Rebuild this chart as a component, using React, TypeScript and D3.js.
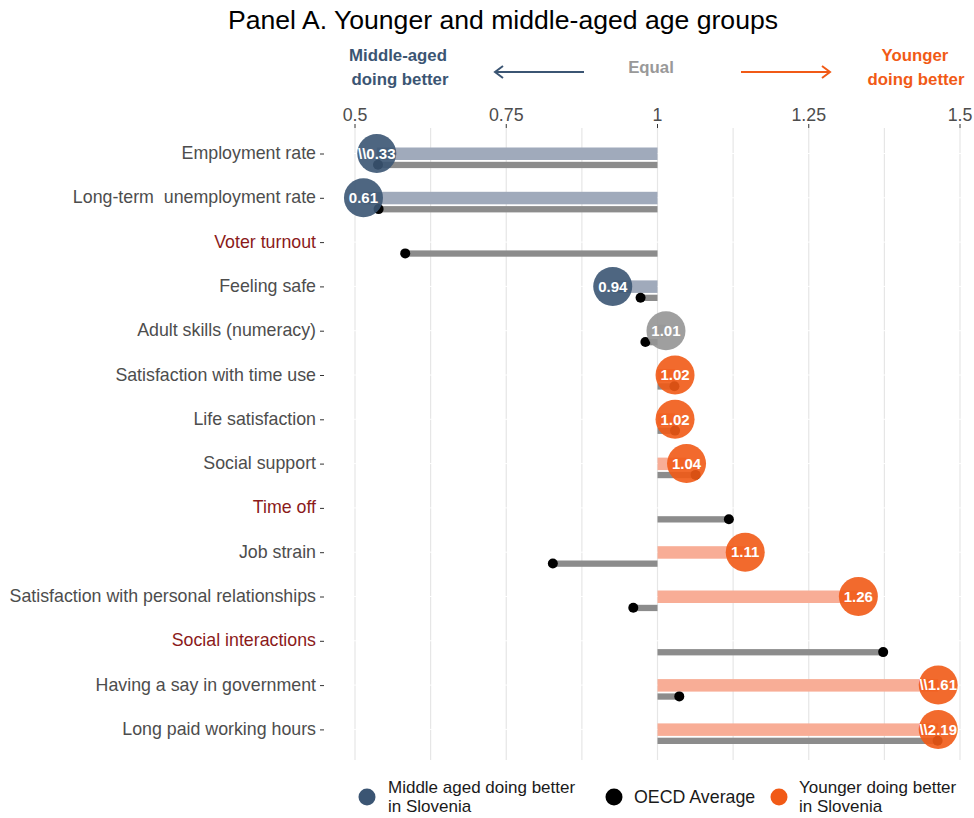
import React from "react";
import * as d3 from "d3";

// Indicators, top to bottom
const indicators = [
  "Employment rate",
  "Long-term  unemployment rate",
  "Voter turnout",
  "Feeling safe",
  "Adult skills (numeracy)",
  "Satisfaction with time use",
  "Life satisfaction",
  "Social support",
  "Time off",
  "Job strain",
  "Satisfaction with personal relationships",
  "Social interactions",
  "Having a say in government",
  "Long paid working hours",
];

// indicators with no Slovenian value (drawn in red)
const missingSlovenia = ["Voter turnout", "Time off", "Social interactions"];

// plotted position of Slovenia ratio (axis units, clipped to the axis)
const sloveniaPos = [0.536, 0.514, null, 0.926, 1.014, 1.029, 1.029, 1.048, null, 1.145, 1.332, null, 1.464, 1.464];
const sloveniaLabel = ["\\\\0.33", "0.61", null, "0.94", "1.01", "1.02", "1.02", "1.04", null, "1.11", "1.26", null, "\\\\1.61", "\\\\2.19"];
const sloveniaGroup = ["middle", "middle", null, "middle", "equal", "younger", "younger", "younger", null, "younger", "younger", null, "younger", "younger"];

// OECD average ratio
const oecdPos = [0.538, 0.539, 0.583, 0.972, 0.98, 1.028, 1.029, 1.063, 1.118, 0.827, 0.96, 1.373, 1.036, 1.463];

const xTicks = [0.5, 0.75, 1, 1.25, 1.5];
const xGrid = [0.5, 0.625, 0.75, 0.875, 1, 1.125, 1.25, 1.375, 1.5];

const FONT = "'Liberation Sans', Arial, sans-serif";
const NAVY = "#3B5573";
const ORANGE = "#F15A16";
const circleFill = { middle: NAVY, equal: "#959595", younger: ORANGE };
const barFill = { middle: "#A0AABB", equal: "#BDBDBD", younger: "#F8AD96" };

export default function App() {
  const W = 974;
  const H = 818;
  const x = d3.scaleLinear().domain([0.5, 1.5]).range([355, 960]);
  const y = d3.scalePoint<string>().domain(indicators).range([153.5, 729.4]);
  const plotTop = 128;
  const plotBottom = 760;
  const fs = 17.8;

  return (
    <div style={{ position: "absolute", left: 0, top: 0 }}>
      <svg width={W} height={H} style={{ display: "block", fontFamily: FONT }}>
        <rect width={W} height={H} fill="#fff" />

        {/* title */}
        <text x={503} y={29} textAnchor="middle" fontSize={26.6} fill="#000">
          Panel A. Younger and middle-aged age groups
        </text>

        {/* direction header */}
        <g fontWeight="bold" fontSize={16.8} textAnchor="middle">
          <text x={398} y={61} fill={NAVY}>Middle-aged</text>
          <text x={400} y={85} fill={NAVY}>doing better</text>
          <text x={651} y={73} fill="#999">Equal</text>
          <text x={915} y={61} fill={ORANGE}>Younger</text>
          <text x={916} y={85} fill={ORANGE}>doing better</text>
        </g>
        <g fill="none" strokeWidth={2}>
          <line x1={584} x2={495} y1={72} y2={72} stroke={NAVY} />
          <path d="M503,66 L495,72 L503,78" stroke={NAVY} />
          <line x1={741} x2={830} y1={72} y2={72} stroke={ORANGE} />
          <path d="M822,66 L830,72 L822,78" stroke={ORANGE} />
        </g>

        {/* grid */}
        {xGrid.map((t) => (
          <line key={t} x1={x(t)} x2={x(t)} y1={plotTop} y2={plotBottom} stroke="#e6e6e6" strokeWidth={1.2} />
        ))}
        {indicators.map((d) => (
          <line key={d} x1={340} x2={965} y1={y(d)} y2={y(d)} stroke="#fff" strokeWidth={1} />
        ))}

        {/* x axis on top */}
        {xTicks.map((t) => (
          <g key={t}>
            <line x1={x(t)} x2={x(t)} y1={124} y2={128} stroke="#333" strokeWidth={1} />
            <text x={x(t)} y={121} textAnchor="middle" fontSize={fs} fill="#4d4d4d">{t}</text>
          </g>
        ))}

        {/* y axis labels */}
        {indicators.map((d) => (
          <g key={d}>
            <text
              x={316}
              y={y(d)! + 5.5}
              textAnchor="end"
              fontSize={fs}
              fill={missingSlovenia.includes(d) ? "#8B1A1A" : "#4d4d4d"}
              style={{ whiteSpace: "pre" }}
            >
              {d}
            </text>
            <line x1={320} x2={324} y1={y(d)! + 0.5} y2={y(d)! + 0.5} stroke="#333" strokeWidth={1} />
          </g>
        ))}

        {/* Slovenia bars */}
        {indicators.map((d, i) => {
          const v = sloveniaPos[i];
          if (v == null) return null;
          const x0 = Math.min(x(1), x(v));
          return (
            <rect key={d} x={x0} y={y(d)! - 6} width={Math.abs(x(v) - x(1))} height={12.5} fill={barFill[sloveniaGroup[i]!]} />
          );
        })}

        {/* OECD bars and dots */}
        {indicators.map((d, i) => {
          const v = oecdPos[i];
          const x0 = Math.min(x(1), x(v));
          return (
            <g key={d}>
              <rect x={x0} y={y(d)! + 8.3} width={Math.abs(x(v) - x(1))} height={6.3} fill="#8c8c8c" />
              <circle cx={x(v)} cy={y(d)! + 11.3} r={5} fill="#000" />
            </g>
          );
        })}

        {/* Slovenia circles */}
        {indicators.map((d, i) => {
          const v = sloveniaPos[i];
          if (v == null) return null;
          return (
            <g key={d}>
              <circle cx={x(v)} cy={y(d)!} r={19.5} fill={circleFill[sloveniaGroup[i]!]} fillOpacity={0.9} />
              <text x={x(v)} y={y(d)! + 5.2} textAnchor="middle" fontSize={15} fontWeight="bold" fill="#fff">
                {sloveniaLabel[i]}
              </text>
            </g>
          );
        })}

        {/* legend */}
        <g fontSize={17} fill="#1a1a1a">
          <circle cx={367} cy={797} r={8.5} fill={NAVY} />
          <text x={388} y={793}>Middle aged doing better</text>
          <text x={388} y={812}>in Slovenia</text>
          <circle cx={614} cy={797} r={8.5} fill="#000" />
          <text x={634} y={803} fontSize={fs}>OECD Average</text>
          <circle cx={779} cy={797} r={8.5} fill={ORANGE} />
          <text x={799} y={793}>Younger doing better</text>
          <text x={799} y={812}>in Slovenia</text>
        </g>
      </svg>
    </div>
  );
}
